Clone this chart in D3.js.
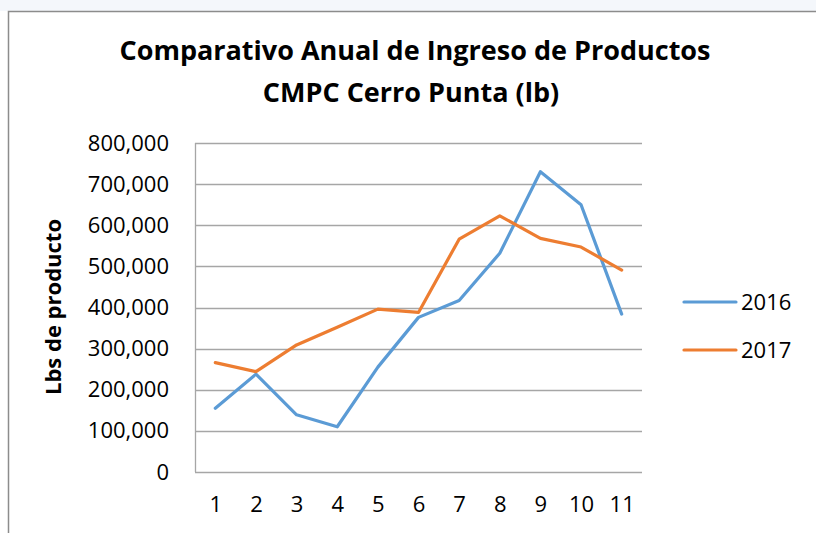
<!DOCTYPE html>
<html>
<head>
<meta charset="utf-8">
<script src="https://cdn.jsdelivr.net/npm/d3@7"></script>
<style>
    body { margin: 0; background: #fff; }
    svg { display: block; font-family: "Open Sans", "Noto Sans", sans-serif; }
    .grid line { stroke: #a6a6a6; stroke-width: 1.3; }
    .axis path, .axis line { stroke: none; }
    .axis text { font-family: "Open Sans", "Noto Sans", sans-serif; font-size: 22px; fill: #000; }
</style>
</head>
<body>
<svg width="816" height="533"></svg>
<script>
    // chart data
    const months = ["1", "2", "3", "4", "5", "6", "7", "8", "9", "10", "11"];
    const values2016 = [155000, 238000, 139000, 110000, 255000, 376000, 417000, 532000, 730000, 650000, 384000];
    const values2017 = [266000, 244000, 309000, 352000, 396000, 388000, 566000, 623000, 568000, 547000, 491000];
    const yTicks = [0, 100000, 200000, 300000, 400000, 500000, 600000, 700000, 800000];
    const seriesNames = ["2016", "2017"];
    const colors = ["#5b9bd5", "#ed7d31"];

    const svg = d3.select("svg");
    const margin = { top: 143, right: 174, bottom: 61, left: 195 };
    const width = 816 - margin.left - margin.right;
    const height = 533 - margin.top - margin.bottom;

    // faint watermark strip above the chart frame
    svg.append("rect")
        .attr("x", 0).attr("y", 0).attr("width", 816).attr("height", 11)
        .attr("fill", "#f4f7fb");

    // chart frame
    svg.append("path")
        .attr("d", "M8.5,540 V11.5 H820")
        .attr("fill", "none")
        .attr("stroke", "#8c8c8c")
        .attr("stroke-width", 1.5);

    // title
    const title = svg.append("text")
        .attr("text-anchor", "middle")
        .attr("font-weight", "bold")
        .attr("font-size", "27px");
    title.append("tspan").attr("x", 415).attr("y", 60).text("Comparativo Anual de Ingreso de Productos");
    title.append("tspan").attr("x", 411).attr("y", 102).text("CMPC Cerro Punta (lb)");

    const g = svg.append("g").attr("transform", `translate(${margin.left},${margin.top})`);

    const x = d3.scalePoint().domain(months).range([0, width]).padding(0.5);
    const y = d3.scaleLinear().domain([0, 800000]).range([height, 0]);

    // gridlines
    g.append("g").attr("class", "grid")
        .selectAll("line")
        .data(yTicks)
        .join("line")
        .attr("x1", 0).attr("x2", width)
        .attr("y1", d => Math.round(y(d)) + 0.5)
        .attr("y2", d => Math.round(y(d)) + 0.5);

    // left axis line
    g.append("line")
        .attr("x1", 0.5).attr("x2", 0.5)
        .attr("y1", 0).attr("y2", height)
        .attr("stroke", "#a6a6a6").attr("stroke-width", 1.3);

    // y axis
    const yAxis = d3.axisLeft(y).tickValues(yTicks).tickSize(0).tickPadding(26)
        .tickFormat(d3.format(","));
    g.append("g").attr("class", "axis").call(yAxis);

    // x axis
    const xAxis = d3.axisBottom(x).tickSize(0).tickPadding(24);
    g.append("g").attr("class", "axis")
        .attr("transform", `translate(0,${height})`)
        .call(xAxis);

    // y axis title
    svg.append("text")
        .attr("transform", "translate(61,307) rotate(-90)")
        .attr("text-anchor", "middle")
        .attr("font-weight", "bold")
        .attr("font-size", "22px")
        .text("Lbs de producto");

    // lines
    const line = d3.line()
        .x((d, i) => x(months[i]))
        .y(d => y(d));

    [values2016, values2017].forEach((vals, k) => {
        g.append("path")
            .datum(vals)
            .attr("fill", "none")
            .attr("stroke", colors[k])
            .attr("stroke-width", 3.2)
            .attr("stroke-linejoin", "round")
            .attr("stroke-linecap", "round")
            .attr("d", line);
    });

    // legend
    const legend = svg.append("g");
    seriesNames.forEach((name, k) => {
        const ly = 302 + k * 48;
        legend.append("line")
            .attr("x1", 684).attr("x2", 736)
            .attr("y1", ly).attr("y2", ly)
            .attr("stroke", colors[k])
            .attr("stroke-width", 3.2)
            .attr("stroke-linecap", "round");
        legend.append("text")
            .attr("x", 741).attr("y", ly)
            .attr("dy", "0.35em")
            .attr("font-size", "22px")
            .text(name);
    });
</script>
</body>
</html>
